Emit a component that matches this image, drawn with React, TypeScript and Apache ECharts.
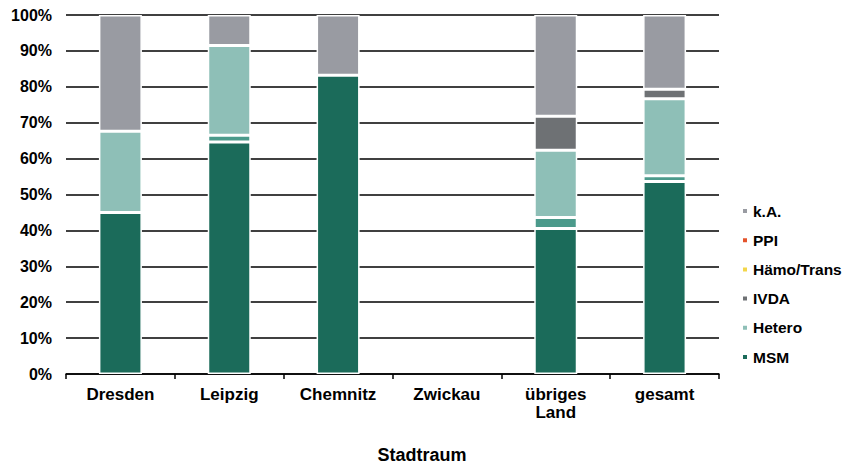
import React, { useEffect, useRef } from "react";
import * as echarts from "echarts";

const categories = ["Dresden", "Leipzig", "Chemnitz", "Zwickau", "übriges\nLand", "gesamt"];
const yTicks = [0, 10, 20, 30, 40, 50, 60, 70, 80, 90, 100];

const msm = [45.0, 64.6, 83.2, 0, 40.5, 53.6];
const msmIvda = [0, 1.9, 0, 0, 3.1, 1.6];
const hetero = [22.6, 25.0, 0, 0, 18.7, 21.5];
const ivda = [0, 0, 0, 0, 9.5, 2.6];
const haemo = [0, 0, 0, 0, 0, 0];
const ppi = [0, 0, 0, 0, 0, 0];
const ka = [32.4, 8.5, 16.8, 0, 28.2, 20.7];

const seriesDefs = [
  { name: "MSM", data: msm, color: "#1b6b5a" },
  { name: "MSM/IVDA", data: msmIvda, color: "#4b9a8b" },
  { name: "Hetero", data: hetero, color: "#8ebfb7" },
  { name: "IVDA", data: ivda, color: "#6e7174" },
  { name: "Hämo/Trans", data: haemo, color: "#f3d64a" },
  { name: "PPI", data: ppi, color: "#e4532b" },
  { name: "k.A.", data: ka, color: "#999ba2" },
];

const legendOrder = ["k.A.", "PPI", "Hämo/Trans", "IVDA", "Hetero", "MSM"];

const FONT = "'Liberation Sans', Arial, sans-serif";

export default function App() {
  const ref = useRef<HTMLDivElement>(null);
  useEffect(() => {
    if (!ref.current) return;
    const chart = echarts.init(ref.current, null, { renderer: "svg" });
    chart.setOption({
      animation: false,
      backgroundColor: "#ffffff",
      grid: { left: 66, right: 123, top: 15, bottom: 91 },
      legend: {
        data: legendOrder,
        orient: "vertical",
        left: 736,
        top: 198,
        itemWidth: 6,
        itemHeight: 6,
        itemGap: 13.2,
        icon: "rect",
        textStyle: { fontFamily: FONT, fontWeight: "bold", fontSize: 15.5, color: "#000" },
      },
      xAxis: {
        type: "category",
        data: categories,
        axisLine: { lineStyle: { color: "#000", width: 1.5 } },
        axisTick: { show: true, length: 5, lineStyle: { color: "#000", width: 1.5 } },
        axisLabel: {
          fontFamily: FONT,
          fontWeight: "bold",
          fontSize: 17,
          color: "#000",
          margin: 11,
          lineHeight: 18,
        },
      },
      yAxis: {
        type: "value",
        min: 0,
        max: 100,
        interval: 10,
        axisLine: { show: false },
        axisTick: { show: false },
        splitLine: { lineStyle: { color: "#000", width: 1.5 } },
        axisLabel: {
          fontFamily: FONT,
          fontWeight: "bold",
          fontSize: 16,
          color: "#000",
          margin: 14,
          formatter: (v: number) => (yTicks.includes(v) ? v + "%" : ""),
        },
      },
      graphic: [
        {
          type: "text",
          x: 422,
          y: 455,
          style: {
            text: "Stadtraum",
            fontFamily: FONT,
            fontWeight: "bold",
            fontSize: 18,
            fill: "#000",
            textAlign: "center",
            textVerticalAlign: "middle",
          },
        },
      ],
      series: seriesDefs.map((s) => ({
        name: s.name,
        type: "bar",
        stack: "total",
        barWidth: 43,
        data: s.data.map((v) => (v === 0 ? "-" : v)),
        itemStyle: { color: s.color, borderColor: "#ffffff", borderWidth: 1.5 },
      })),
    });
    return () => chart.dispose();
  }, []);
  return <div ref={ref} style={{ width: 842, height: 465, position: "absolute", left: 0, top: 0 }} />;
}
